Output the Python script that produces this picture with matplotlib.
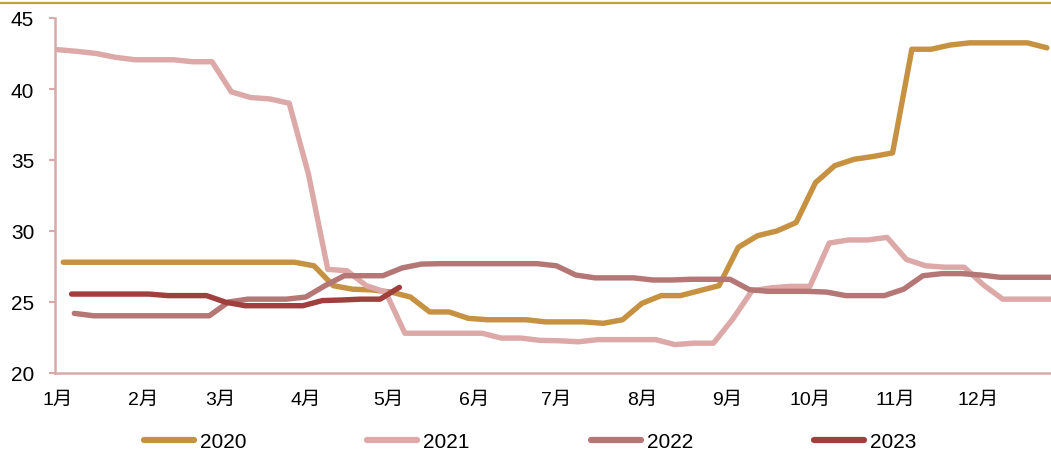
import pandas as pd
import matplotlib.pyplot as plt
import matplotlib.lines as mlines

plt.rcParams['font.family'] = ['Liberation Sans', 'Noto Sans CJK SC', 'DejaVu Sans']

# weekly readings (Fridays), one list per year
start_2020 = '2020-01-03'
vals_2020 = [27.8, 27.8, 27.8, 27.8, 27.8, 27.8, 27.8, 27.8, 27.8, 27.8,
             27.8, 27.8, 27.8, 27.55, 26.15, 25.9, 25.85, 25.7, 25.35, 24.3,
             24.3, 23.85, 23.75, 23.75, 23.75, 23.6, 23.6, 23.6, 23.5, 23.75,
             24.9, 25.45, 25.45, 25.8, 26.15, 28.85, 29.67, 30.0, 30.6, 33.4,
             34.6, 35.05, 35.25, 35.5, 42.8, 42.8, 43.1, 43.25, 43.25, 43.25,
             43.25, 42.9]

start_2021 = '2021-01-01'
vals_2021 = [42.77, 42.65, 42.5, 42.23, 42.06, 42.06, 42.06, 41.92, 41.92, 39.8,
             39.4, 39.3, 39.0, 34.0, 27.3, 27.2, 26.15, 25.7, 22.8, 22.8,
             22.8, 22.8, 22.8, 22.46, 22.46, 22.3, 22.27, 22.2, 22.35, 22.35,
             22.35, 22.35, 22.0, 22.1, 22.1, 23.8, 25.8, 26.0, 26.1, 26.1,
             29.15, 29.37, 29.37, 29.55, 28.0, 27.55, 27.45, 27.45, 26.2, 25.2,
             25.2, 25.2, 25.2]

start_2022 = '2022-01-07'
vals_2022 = [24.2, 24.03, 24.03, 24.03, 24.03, 24.03, 24.03, 24.03, 25.0, 25.2,
             25.2, 25.2, 25.35, 26.15, 26.85, 26.85, 26.85, 27.4, 27.67, 27.7,
             27.7, 27.7, 27.7, 27.7, 27.7, 27.55, 26.9, 26.7, 26.7, 26.7,
             26.55, 26.55, 26.6, 26.6, 26.6, 25.87, 25.75, 25.75, 25.75, 25.7,
             25.45, 25.45, 25.45, 25.9, 26.85, 27.0, 27.0, 26.9, 26.74, 26.74,
             26.74, 26.74]

start_2023 = '2023-01-06'
vals_2023 = [25.56, 25.56, 25.56, 25.56, 25.56, 25.45, 25.45, 25.45, 24.98, 24.74,
             24.74, 24.74, 24.74, 25.1, 25.14, 25.2, 25.2, 26.03]

years = ['2020', '2021', '2022', '2023']
starts = [start_2020, start_2021, start_2022, start_2023]
series = [vals_2020, vals_2021, vals_2022, vals_2023]
colors = ['#C69242', '#DCA9A8', '#B47775', '#A0403E']

month_labels = ['1月', '2月', '3月', '4月', '5月', '6月',
                '7月', '8月', '9月', '10月', '11月', '12月']
month_days = pd.date_range('2023-01-01', periods=12, freq='MS').dayofyear

axis_color = '#D9A9A8'

fig = plt.figure(figsize=(10.51, 4.52), dpi=100)
ax = fig.add_axes([55 / 1051, 78 / 452, 996 / 1051, 355 / 452])

for year, start, vals, c in zip(years, starts, series, colors):
    days = pd.date_range(start, periods=len(vals), freq='7D').dayofyear
    ax.plot(days, vals, color=c, lw=3.9, solid_capstyle='round',
            solid_joinstyle='round', label=year)

ax.set_xlim(0, 361.5)
ax.set_ylim(20, 45)
ax.set_yticks(range(20, 46, 5))
ax.set_xticks(month_days)
ax.set_xticklabels(month_labels)

for side in ['top', 'right']:
    ax.spines[side].set_visible(False)
for side in ['left', 'bottom']:
    ax.spines[side].set_color(axis_color)
    ax.spines[side].set_linewidth(1.8)

ax.tick_params(axis='y', direction='out', length=4, width=1.5,
               color=axis_color, pad=11, labelsize=15, labelcolor='black')
ax.tick_params(axis='x', length=0, pad=13, labelsize=14, labelcolor='black')

handles = [mlines.Line2D([], [], color=c, lw=4.5, solid_capstyle='round')
           for c in colors]
fig.legend(handles, years, loc='center', ncol=4, frameon=False,
           bbox_to_anchor=(530 / 1051, 1 - 443 / 452), fontsize=15,
           handlelength=2.4, handletextpad=0.3, columnspacing=5.8)

# thin gold rule across the top
fig.add_artist(mlines.Line2D([0, 1], [1 - 4 / 452, 1 - 4 / 452],
                             transform=fig.transFigure, color='#C0A040', lw=1.6))

fig.savefig('out.png', dpi=100)
